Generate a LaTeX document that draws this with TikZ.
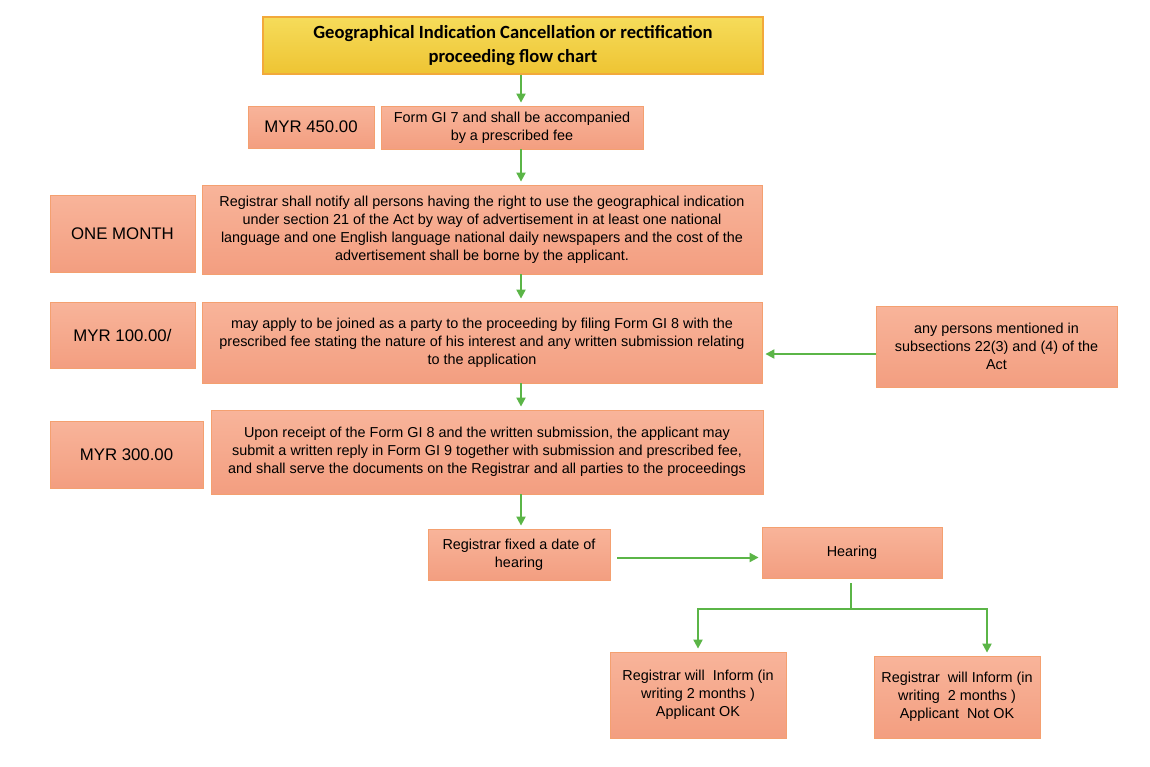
\documentclass[tikz,border=0pt]{standalone}
\usepackage{fontspec}
\setmainfont{Liberation Sans}
\newfontfamily\headfont{Carlito}
\usetikzlibrary{arrows.meta}
\definecolor{boxline}{HTML}{F4A070}
\definecolor{boxtop}{HTML}{F8B49A}
\definecolor{boxbottom}{HTML}{F39E80}
\definecolor{headtop}{HTML}{F6DC5A}
\definecolor{headbottom}{HTML}{EEC433}
\definecolor{headline}{HTML}{F2A93B}
\definecolor{flowgreen}{HTML}{5BB547}

\begin{document}
\begin{tikzpicture}
[x=0.5pt,y=-0.5pt,
every node/.style={shape=rectangle,draw=boxline,top color=boxtop,bottom color=boxbottom,
  align=center,inner sep=1pt,font=\fontsize{7.2}{9}\selectfont},
feebox/.style={font=\fontsize{8.4}{10}\selectfont},
headbox/.style={draw=headline,line width=0.6pt,top color=headtop,bottom color=headbottom,
  font=\headfont\bfseries\fontsize{9.3}{12}\selectfont},
flow/.style={draw=flowgreen,line width=1pt,-{Triangle[length=4.5pt,width=4.5pt]},shorten >=1.5pt}]

\useasboundingbox (0,0) rectangle (1150,766);

\node[headbox,minimum width=250pt,minimum height=28.5pt] (title) at (513,45.5)
{Geographical Indication Cancellation or rectification\\ proceeding flow chart};

\node[feebox,minimum width=63pt,minimum height=21pt] (myr450) at (311,127) {MYR 450.00};
\node[minimum width=131pt,minimum height=21.5pt] (form7) at (512,127.5)
{Form GI 7 and shall be accompanied\\ by a prescribed fee};

\node[feebox,minimum width=72.5pt,minimum height=38.5pt] (onemonth) at (122.5,233.5) {ONE MONTH};
\node[minimum width=280pt,minimum height=44.5pt] (notify) at (482,229.5)
{Registrar shall notify all persons having the right to use the geographical indication\\
under section 21 of the Act by way of advertisement in at least one national\\
language and one English language national daily newspapers and the cost of the\\
advertisement shall be borne by the applicant.};

\node[feebox,minimum width=72.5pt,minimum height=33pt] (myr100) at (122.5,335) {MYR 100.00/};
\node[minimum width=280pt,minimum height=40.5pt] (apply) at (482,342.5)
{may apply to be joined as a party to the proceeding by filing Form GI 8 with the\\
prescribed fee stating the nature of his interest and any written submission relating\\
to the application};
\node[minimum width=120.5pt,minimum height=40.5pt] (persons) at (996.5,346.5)
{any persons mentioned in\\ subsections 22(3) and (4) of the\\ Act};

\node[feebox,minimum width=76.5pt,minimum height=33.5pt] (myr300) at (126.5,454.5) {MYR 300.00};
\node[minimum width=276pt,minimum height=42pt] (upon) at (487,452)
{Upon receipt of the Form GI 8 and the written submission, the applicant may\\
submit a written reply in Form GI 9 together with submission and prescribed fee,\\
and shall serve the documents on the Registrar and all parties to the proceedings};

\node[minimum width=91pt,minimum height=25.5pt] (fixed) at (519,554.5)
{Registrar fixed a date of\\ hearing};
\node[minimum width=90pt,minimum height=25.5pt] (hearing) at (852,552.5) {Hearing};

\node[minimum width=88pt,minimum height=43pt] (ok) at (698,695)
{Registrar will~ Inform (in\\ writing 2 months )\\ Applicant OK};
\node[minimum width=83pt,minimum height=41pt] (notok) at (957,697)
{Registrar~ will Inform (in\\ writing~ 2 months )\\ Applicant~ Not OK};

\coordinate (axis) at (521,0);
\coordinate (split) at (851,609);
\coordinate (notokin) at (987,0);

\draw[flow] (title.south -| axis) -- (form7.north -| axis);
\draw[flow] (form7.south -| axis) -- (notify.north -| axis);
\draw[flow] (notify.south -| axis) -- (apply.north -| axis);
\draw[flow] (apply.south -| axis) -- (upon.north -| axis);
\draw[flow] (upon.south -| axis) -- (fixed.north -| axis);
\draw[flow] ([yshift=-3.75pt]persons.west) -- ([yshift=-3.75pt]persons.west -| apply.east);
\draw[flow,shorten <=3.5pt] ([yshift=-1.5pt]fixed.east) -- ([yshift=-1.5pt]fixed.east -| hearing.west);
\draw[draw=flowgreen,line width=1pt,shorten <=2.5pt] (hearing.south -| split) -- (split);
\draw[flow] (split) -| (ok.north);
\draw[flow] (split) -| (notok.north -| notokin);
\end{tikzpicture}
\end{document}
